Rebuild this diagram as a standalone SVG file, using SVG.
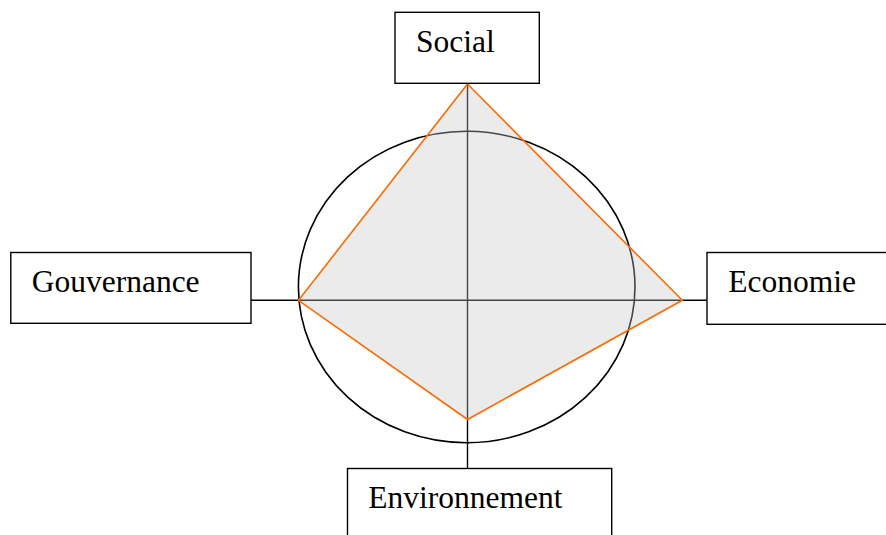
<svg xmlns="http://www.w3.org/2000/svg" width="886" height="535" viewBox="0 0 886 535">
<style>
.box{fill:#fff;stroke:#000;stroke-width:1.4}
.lbl{font-family:"Liberation Serif","Times New Roman",serif;font-size:31.5px;fill:#000}
.axis{stroke:#000;stroke-width:1.4;fill:none}
</style>
<rect width="886" height="535" fill="#fff"/>
<g id="connectors">
<line class="axis" x1="467.5" y1="83.5" x2="467.5" y2="468.5"/>
<line class="axis" x1="251" y1="300.3" x2="707" y2="300.3"/>
</g>
<ellipse id="circle" cx="466.7" cy="287" rx="168.3" ry="155.7" fill="none" stroke="#000" stroke-width="1.6"/>
<polygon id="radar" points="467.5,84 682.3,300.3 467.5,419.5 298.5,300.3" fill="#c6c6c6" fill-opacity="0.35" stroke="#ff6a00" stroke-width="1.6" stroke-linejoin="miter"/>
<g id="social">
<rect class="box" x="395" y="12.3" width="144.3" height="71"/>
<text class="lbl" x="416" y="51.7">Social</text>
</g>
<g id="gouvernance">
<rect class="box" x="10.8" y="252.5" width="240.2" height="70.8"/>
<text class="lbl" x="31.7" y="291.7">Gouvernance</text>
</g>
<g id="economie">
<rect class="box" x="707" y="252.5" width="185" height="71.8"/>
<text class="lbl" x="728.3" y="291.7">Economie</text>
</g>
<g id="environnement">
<rect class="box" x="347.5" y="468.5" width="264.2" height="80"/>
<text class="lbl" x="368.3" y="507.7">Environnement</text>
</g>
</svg>
